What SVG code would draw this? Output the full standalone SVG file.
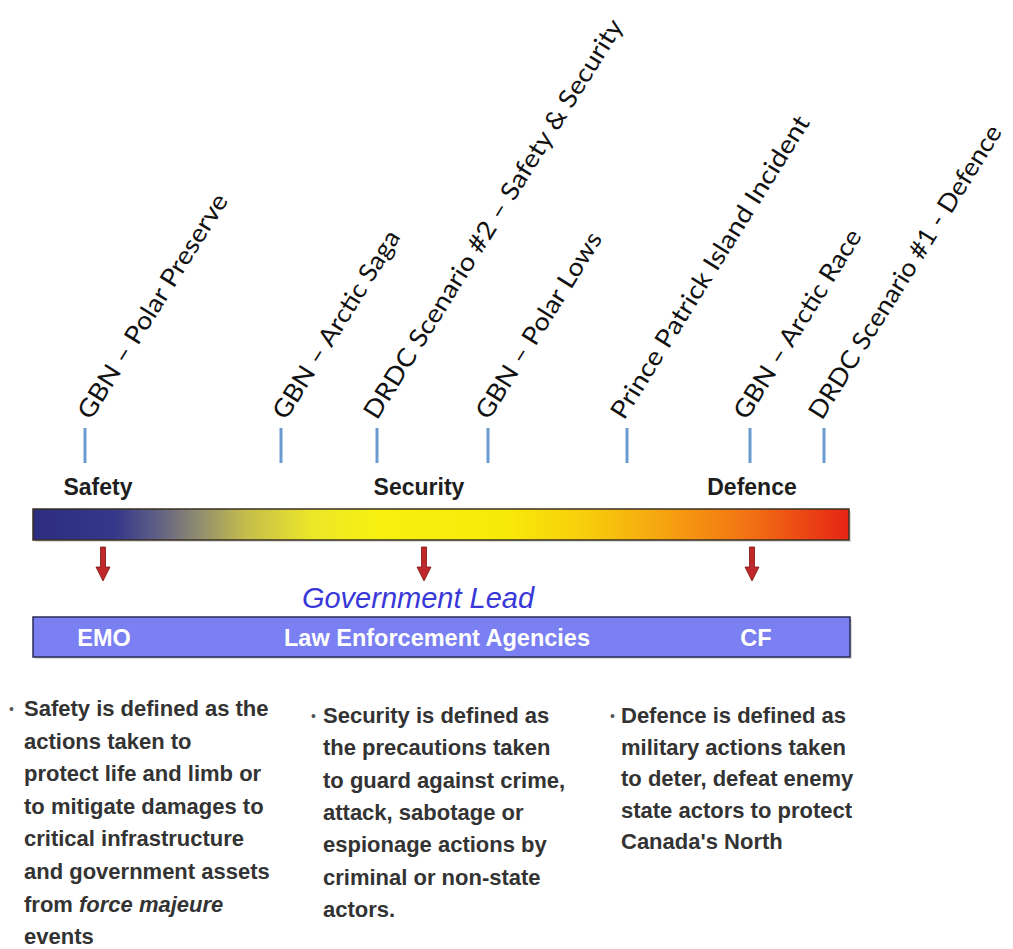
<svg xmlns="http://www.w3.org/2000/svg" xmlns:xlink="http://www.w3.org/1999/xlink" width="1013" height="949" viewBox="0 0 1013 949">
<style>
.lbl{font-family:"Lato","Liberation Sans",sans-serif;font-size:25px;fill:#111}
.tick{stroke:#6a9bd0;stroke-width:3}
.zone{font-family:"Liberation Sans",Arial,sans-serif;font-weight:bold;font-size:23px;fill:#1e1e1e;text-anchor:middle}
.bartxt{font-family:"Liberation Sans",Arial,sans-serif;font-weight:bold;font-size:23.5px;fill:#ffffff;text-anchor:middle}
.body{font-family:"Liberation Sans",Arial,sans-serif;font-weight:bold;font-size:22px;fill:#333333}
.bullet{font-family:"Liberation Sans",Arial,sans-serif;font-size:14px;fill:#555555}
.arrow{fill:#c0282a;stroke:#7a1212;stroke-width:0.8}
</style>
<defs>
<linearGradient id="spectrum" x1="0" y1="0" x2="1" y2="0">
<stop offset="0" stop-color="#2c2d80"/>
<stop offset="0.10" stop-color="#35378a"/>
<stop offset="0.15" stop-color="#5d5d85"/>
<stop offset="0.20" stop-color="#8e8a72"/>
<stop offset="0.26" stop-color="#c4bc4c"/>
<stop offset="0.34" stop-color="#ece62a"/>
<stop offset="0.42" stop-color="#f7f010"/>
<stop offset="0.58" stop-color="#f8ea08"/>
<stop offset="0.68" stop-color="#f8cc0c"/>
<stop offset="0.78" stop-color="#f6a010"/>
<stop offset="0.88" stop-color="#f27014"/>
<stop offset="1" stop-color="#e62414"/>
</linearGradient>
<path id="downArrow" d="M-2.5,0 H2.5 V20 H7 L0,34 L-7,20 H-2.5 Z"/>
</defs>
<rect width="1013" height="949" fill="#ffffff"/>

<g id="scenario-labels">
<g id="lbl-polar-preserve">
<line class="tick" x1="85" y1="428" x2="85" y2="463"/>
<text class="lbl" transform="translate(91,421) rotate(-58)" textLength="260" lengthAdjust="spacingAndGlyphs">GBN – Polar Preserve</text>
</g>
<g id="lbl-arctic-saga">
<line class="tick" x1="281" y1="428" x2="281" y2="463"/>
<text class="lbl" transform="translate(286,421) rotate(-58)" textLength="217" lengthAdjust="spacingAndGlyphs">GBN – Arctic Saga</text>
</g>
<g id="lbl-drdc2">
<line class="tick" x1="377" y1="428" x2="377" y2="463"/>
<text class="lbl" transform="translate(377,421) rotate(-58)" textLength="466" lengthAdjust="spacingAndGlyphs">DRDC Scenario #2 – Safety &amp; Security</text>
</g>
<g id="lbl-polar-lows">
<line class="tick" x1="488" y1="428" x2="488" y2="463"/>
<text class="lbl" transform="translate(489,421) rotate(-58)" textLength="215" lengthAdjust="spacingAndGlyphs">GBN – Polar Lows</text>
</g>
<g id="lbl-prince-patrick">
<line class="tick" x1="627" y1="428" x2="627" y2="463"/>
<text class="lbl" transform="translate(624,421) rotate(-58)" textLength="352" lengthAdjust="spacingAndGlyphs">Prince Patrick Island Incident</text>
</g>
<g id="lbl-arctic-race">
<line class="tick" x1="750" y1="428" x2="750" y2="463"/>
<text class="lbl" transform="translate(747,421) rotate(-58)" textLength="218" lengthAdjust="spacingAndGlyphs">GBN – Arctic Race</text>
</g>
<g id="lbl-drdc1">
<line class="tick" x1="824" y1="428" x2="824" y2="463"/>
<text class="lbl" transform="translate(822,421) rotate(-58)" textLength="341" lengthAdjust="spacingAndGlyphs">DRDC Scenario #1 - Defence</text>
</g>
</g>

<g id="zone-labels">
<text class="zone" x="98" y="495">Safety</text>
<text class="zone" x="419" y="495">Security</text>
<text class="zone" x="752" y="495">Defence</text>
</g>

<g id="spectrum-bar">
<rect x="35" y="511" width="816" height="31" fill="#000" opacity="0.15"/>
<rect x="33" y="509" width="816" height="31" fill="url(#spectrum)" stroke="#3a3020" stroke-width="1.5"/>
</g>

<g id="connectors">
<use xlink:href="#downArrow" href="#downArrow" class="arrow" x="103" y="547"/>
<use xlink:href="#downArrow" href="#downArrow" class="arrow" x="424" y="547"/>
<use xlink:href="#downArrow" href="#downArrow" class="arrow" x="752" y="547"/>
</g>

<g id="government-lead">
<text x="418" y="608" text-anchor="middle" font-family="Liberation Sans, Arial, sans-serif" font-style="italic" font-size="29" fill="#3838d8">Government Lead</text>
</g>

<g id="lead-bar">
<rect x="35" y="619" width="817" height="40" fill="#000" opacity="0.15"/>
<rect x="33" y="617" width="817" height="40" fill="#7a7ff2" stroke="#2a2a55" stroke-width="1.5"/>
<text class="bartxt" x="104" y="646">EMO</text>
<text class="bartxt" x="437" y="646">Law Enforcement Agencies</text>
<text class="bartxt" x="756" y="646">CF</text>
</g>

<g id="def-safety">
<text class="bullet" x="9" y="714">•</text>
<text class="body" x="24">
<tspan x="24" y="716">Safety is defined as the</tspan>
<tspan x="24" y="748.6">actions taken to</tspan>
<tspan x="24" y="781.2">protect life and limb or</tspan>
<tspan x="24" y="813.8">to mitigate damages to</tspan>
<tspan x="24" y="846.4">critical infrastructure</tspan>
<tspan x="24" y="879">and government assets</tspan>
<tspan x="24" y="911.6">from <tspan font-style="italic">force majeure</tspan></tspan>
<tspan x="24" y="944.2">events</tspan>
</text>
</g>

<g id="def-security">
<text class="bullet" x="311" y="721">•</text>
<text class="body" x="323">
<tspan x="323" y="723">Security is defined as</tspan>
<tspan x="323" y="755.3">the precautions taken</tspan>
<tspan x="323" y="787.6">to guard against crime,</tspan>
<tspan x="323" y="819.9">attack, sabotage or</tspan>
<tspan x="323" y="852.2">espionage actions by</tspan>
<tspan x="323" y="884.5">criminal or non-state</tspan>
<tspan x="323" y="916.8">actors.</tspan>
</text>
</g>

<g id="def-defence">
<text class="bullet" x="610" y="721">•</text>
<text class="body" x="621">
<tspan x="621" y="723">Defence is defined as</tspan>
<tspan x="621" y="754.6">military actions taken</tspan>
<tspan x="621" y="786.2">to deter, defeat enemy</tspan>
<tspan x="621" y="817.8">state actors to protect</tspan>
<tspan x="621" y="849.4">Canada's North</tspan>
</text>
</g>
</svg>
